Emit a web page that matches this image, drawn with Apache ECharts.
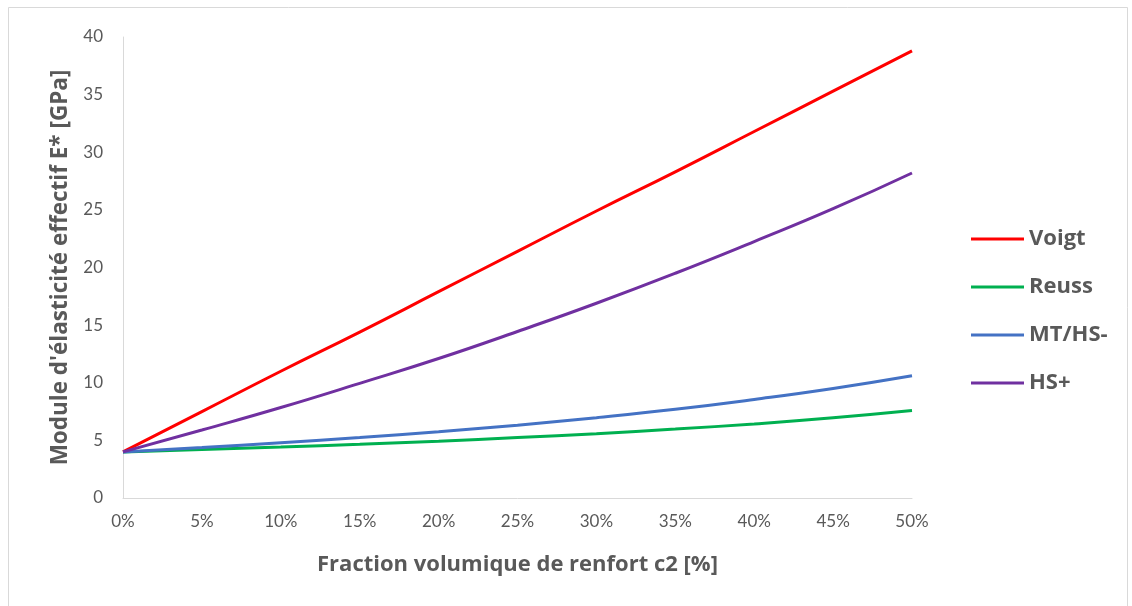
<!DOCTYPE html>
<html>
<head>
<meta charset="utf-8">
<script src="https://cdn.jsdelivr.net/npm/echarts@6/dist/echarts.min.js"></script>
<style>
html,body{margin:0;padding:0;background:#fff;}
#chart{width:1132px;height:606px;}
</style>
</head>
<body>
<div id="chart"></div>
<script>
// Data
const fractions = [0, 5, 10, 15, 20, 25, 30, 35, 40, 45, 50]; // c2 in %
const voigt = [4.0, 7.5, 11.0, 14.4, 17.9, 21.4, 24.9, 28.3, 31.8, 35.3, 38.8];
const reuss = [4.0, 4.2, 4.42, 4.66, 4.93, 5.24, 5.58, 5.98, 6.43, 6.96, 7.59];
const mtHsMinus = [4.0, 4.38, 4.8, 5.25, 5.75, 6.32, 6.97, 7.7, 8.55, 9.5, 10.6];
const hsPlus = [4.0, 5.9, 7.85, 9.95, 12.1, 14.45, 16.9, 19.5, 22.25, 25.1, 28.2];
const seriesNames = ['Voigt', 'Reuss', 'MT/HS-', 'HS+'];
const seriesColors = ['#ff0000', '#00b050', '#4472c4', '#7030a0'];
const xTitle = 'Fraction volumique de renfort c2 [%]';
const yTitle = "Module d'élasticité effectif E* [GPa]";

const allData = [voigt, reuss, mtHsMinus, hsPlus];
const FONT = 'Lato, "Open Sans", sans-serif';
const BOLD_FONT = '"Open Sans", Lato, sans-serif';

const chart = echarts.init(document.getElementById('chart'), null, {renderer: 'canvas'});
chart.setOption({
  backgroundColor: '#ffffff',
  animation: false,
  graphic: [{
    type: 'rect',
    shape: {x: 8.5, y: 7.5, width: 1119, height: 610},
    style: {fill: 'none', stroke: '#d9d9d9', lineWidth: 1},
    silent: true
  }],
  grid: {left: 123, right: 220, top: 37, bottom: 108, containLabel: false},
  legend: {
    orient: 'vertical',
    left: 971,
    top: 228,
    padding: 0,
    itemWidth: 53,
    itemHeight: 3,
    itemGap: 26,
    icon: 'rect',
    data: seriesNames,
    textStyle: {fontFamily: BOLD_FONT, fontSize: 22, fontWeight: 'bold', color: '#595959'}
  },
  xAxis: {
    type: 'value',
    min: 0, max: 50, interval: 5,
    name: xTitle,
    nameLocation: 'middle',
    nameGap: 56,
    nameTextStyle: {fontFamily: BOLD_FONT, fontSize: 22, fontWeight: 'bold', color: '#595959'},
    axisLine: {show: true, lineStyle: {color: '#d9d9d9', width: 1}},
    axisTick: {show: false},
    splitLine: {show: false},
    axisLabel: {formatter: '{value}%', margin: 15, fontFamily: FONT, fontSize: 17, color: '#595959'}
  },
  yAxis: {
    type: 'value',
    min: 0, max: 40, interval: 5,
    name: yTitle,
    nameLocation: 'middle',
    nameGap: 51,
    nameTextStyle: {fontFamily: BOLD_FONT, fontSize: 22.5, fontWeight: 'bold', color: '#595959'},
    axisLine: {show: true, lineStyle: {color: '#d9d9d9', width: 1}},
    axisTick: {show: false},
    splitLine: {show: false},
    axisLabel: {margin: 20, fontFamily: FONT, fontSize: 17, color: '#595959'}
  },
  series: seriesNames.map((n, i) => ({
    name: n,
    type: 'line',
    smooth: true,
    showSymbol: false,
    symbol: 'none',
    data: fractions.map((x, k) => [x, allData[i][k]]),
    lineStyle: {color: seriesColors[i], width: 3},
    itemStyle: {color: seriesColors[i]}
  }))
});
</script>
</body>
</html>
